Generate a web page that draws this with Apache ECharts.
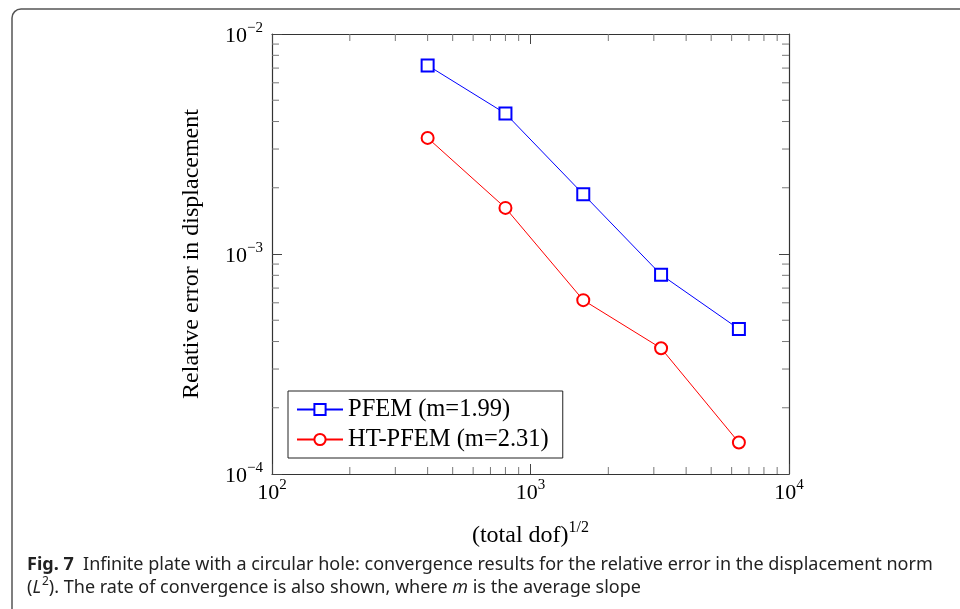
<!DOCTYPE html>
<html>
<head>
<meta charset="utf-8">
<script src="https://cdn.jsdelivr.net/npm/echarts@6/dist/echarts.min.js"></script>
<style>
html,body{margin:0;padding:0;background:#fff;}
#chart{width:960px;height:609px;}
</style>
</head>
<body>
<div id="chart"></div>
<script>
// ---- data ----
var dofSqrt = [400, 800, 1600, 3200, 6400];
var pfemErr = [7.2e-3, 4.35e-3, 1.87e-3, 8.05e-4, 4.56e-4];
var htpfemErr = [3.37e-3, 1.62e-3, 6.17e-4, 3.73e-4, 1.39e-4];
var seriesNames = ['PFEM (m=1.99)', 'HT-PFEM (m=2.31)'];
var xMinorTicks = [200, 300, 400, 500, 600, 700, 800, 900, 2000, 3000, 4000, 5000, 6000, 7000, 8000, 9000];
var yMinorTicks = [2e-4, 3e-4, 4e-4, 5e-4, 6e-4, 7e-4, 8e-4, 9e-4, 2e-3, 3e-3, 4e-3, 5e-3, 6e-3, 7e-3, 8e-3, 9e-3];
var xRange = [100, 10000];
var yRange = [1e-4, 1e-2];
var xTitle = '(total dof)';
var xTitleSup = '1/2';
var yTitle = 'Relative error in displacement';
var captionBold = 'Fig. 7';
var captionLine1 = 'Infinite plate with a circular hole: convergence results for the relative error in the displacement norm';
var captionLine2a = '(';
var captionLine2b = '). The rate of convergence is also shown, where ';
var captionLine2c = ' is the average slope';

var SERIF = '"Liberation Serif", "DejaVu Serif", serif';
var SANS = '"Noto Sans", "Open Sans", sans-serif';

function powLabel(v) {
  var e = Math.round(Math.log10(v));
  var s = e < 0 ? '\u2212' + (-e) : '' + e;
  return '{b|10}{s|' + s + '}';
}
var labelRich = {
  b: {fontFamily: SERIF, fontSize: 22, color: '#000', lineHeight: 26, verticalAlign: 'bottom'},
  s: {fontFamily: SERIF, fontSize: 15, color: '#000', lineHeight: 26, verticalAlign: 'top', padding: [0, 0, 8, 0]}
};

var axisLineStyle = {color: '#333', width: 1.2};
var majorTick = {show: true, inside: true, length: 10, lineStyle: {color: '#444', width: 1}};

var chart = echarts.init(document.getElementById('chart'), null, {renderer: 'canvas'});

function minorXRender(params, api) {
  var v = api.value(0);
  var b = api.coord([v, yRange[0]]);
  var t = api.coord([v, yRange[1]]);
  return {type: 'group', children: [
    {type: 'line', shape: {x1: b[0], y1: b[1], x2: b[0], y2: b[1] - 7}, style: {stroke: '#777', lineWidth: 1}},
    {type: 'line', shape: {x1: t[0], y1: t[1], x2: t[0], y2: t[1] + 7}, style: {stroke: '#777', lineWidth: 1}}
  ]};
}
function minorYRender(params, api) {
  var v = api.value(1);
  var l = api.coord([xRange[0], v]);
  var r = api.coord([xRange[1], v]);
  return {type: 'group', children: [
    {type: 'line', shape: {x1: l[0], y1: l[1], x2: l[0] + 7, y2: l[1]}, style: {stroke: '#777', lineWidth: 1}},
    {type: 'line', shape: {x1: r[0], y1: r[1], x2: r[0] - 7, y2: r[1]}, style: {stroke: '#777', lineWidth: 1}}
  ]};
}

var option = {
  backgroundColor: '#fff',
  animation: false,
  grid: {left: 272, right: 171, top: 34, bottom: 135, containLabel: false},
  xAxis: [{
    type: 'log', logBase: 10, min: xRange[0], max: xRange[1], position: 'bottom',
    axisLine: {show: true, lineStyle: axisLineStyle},
    axisTick: majorTick,
    splitLine: {show: false},
    axisLabel: {formatter: powLabel, rich: labelRich, margin: 4},
    name: '{a|' + xTitle + '}{s|' + xTitleSup + '}',
    nameLocation: 'middle', nameGap: 46,
    nameTextStyle: {rich: {
      a: {fontFamily: SERIF, fontSize: 24, color: '#000', lineHeight: 28, verticalAlign: 'bottom'},
      s: {fontFamily: SERIF, fontSize: 16, color: '#000', lineHeight: 28, verticalAlign: 'top', padding: [0, 0, 8, 0]}
    }}
  }, {
    type: 'log', logBase: 10, min: xRange[0], max: xRange[1], position: 'top',
    axisLine: {show: true, lineStyle: axisLineStyle},
    axisTick: majorTick, axisLabel: {show: false}, splitLine: {show: false}
  }],
  yAxis: [{
    type: 'log', logBase: 10, min: yRange[0], max: yRange[1], position: 'left',
    axisLine: {show: true, lineStyle: axisLineStyle},
    axisTick: majorTick,
    splitLine: {show: false},
    axisLabel: {formatter: powLabel, rich: labelRich, margin: 9},
    name: yTitle, nameLocation: 'middle', nameGap: 68, nameRotate: 90,
    nameTextStyle: {fontFamily: SERIF, fontSize: 24, color: '#000'}
  }, {
    type: 'log', logBase: 10, min: yRange[0], max: yRange[1], position: 'right',
    axisLine: {show: true, lineStyle: axisLineStyle},
    axisTick: majorTick, axisLabel: {show: false}, splitLine: {show: false}
  }],
  legend: {
    data: seriesNames,
    orient: 'vertical',
    left: 288, top: 391,
    backgroundColor: '#fff',
    borderColor: '#222', borderWidth: 1, borderRadius: 0,
    padding: [6, 14, 6, 8],
    itemGap: 5,
    itemWidth: 46, itemHeight: 14,
    textStyle: {fontFamily: SERIF, fontSize: 24.5, color: '#000', padding: [0, 0, 0, 0]}
  },
  series: [
    {
      name: seriesNames[0], type: 'line',
      data: dofSqrt.map(function (x, i) { return [x, pfemErr[i]]; }),
      symbol: 'emptyRect', symbolSize: 12,
      lineStyle: {color: '#0000ff', width: 1},
      itemStyle: {color: '#0000ff', borderColor: '#0000ff', borderWidth: 1.2},
      emphasis: {disabled: true}, z: 5
    },
    {
      name: seriesNames[1], type: 'line',
      data: dofSqrt.map(function (x, i) { return [x, htpfemErr[i]]; }),
      symbol: 'emptyCircle', symbolSize: 12,
      lineStyle: {color: '#ff0000', width: 1},
      itemStyle: {color: '#ff0000', borderColor: '#ff0000', borderWidth: 1.2},
      emphasis: {disabled: true}, z: 5
    },
    {
      type: 'custom', silent: true, renderItem: minorXRender,
      data: xMinorTicks.map(function (v) { return [v, yRange[0]]; }), z: 1
    },
    {
      type: 'custom', silent: true, renderItem: minorYRender,
      data: yMinorTicks.map(function (v) { return [xRange[0], v]; }), z: 1
    }
  ],
  graphic: [
    {
      type: 'rect', silent: true,
      shape: {x: 12, y: 9, width: 1000, height: 700, r: 9},
      style: {fill: 'none', stroke: '#555', lineWidth: 1.5}
    },
    {
      type: 'text', silent: true, left: 27, top: 556,
      style: {
        text: '{b|' + captionBold + '}{n|  ' + captionLine1 + '}',
        rich: {
          b: {fontFamily: SANS, fontSize: 18, fontWeight: 'bold', fill: '#222', lineHeight: 24},
          n: {fontFamily: SANS, fontSize: 18, fill: '#222', lineHeight: 24}
        }
      }
    },
    {
      type: 'text', silent: true, left: 27, top: 576,
      style: {
        text: '{n|' + captionLine2a + '}{i|L}{s|2}{n|' + captionLine2b + '}{i|m}{n|' + captionLine2c + '}',
        rich: {
          n: {fontFamily: SANS, fontSize: 18, fill: '#222', lineHeight: 24, verticalAlign: 'bottom'},
          i: {fontFamily: SANS, fontSize: 18, fontStyle: 'italic', fill: '#222', lineHeight: 24, verticalAlign: 'bottom'},
          s: {fontFamily: SANS, fontSize: 12, fill: '#222', lineHeight: 14, verticalAlign: 'bottom', padding: [0, 0, 9, 1]}
        }
      }
    }
  ]
};
chart.setOption(option);
</script>
</body>
</html>
